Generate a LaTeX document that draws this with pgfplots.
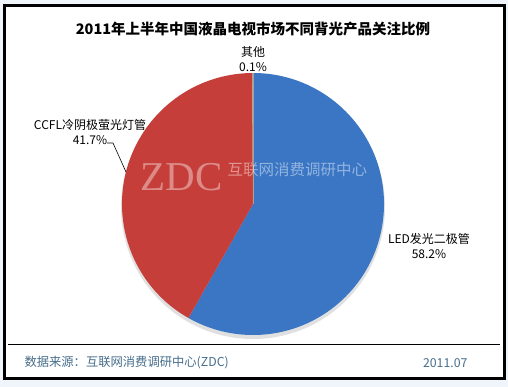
\documentclass[border=0pt]{standalone}
\usepackage{fontspec}
\setmainfont{Noto Sans CJK SC}
\newfontfamily\zdcfont{Liberation Serif}
\usepackage{pgfplots}
\usepackage{pgfplotstable}
\pgfplotsset{compat=1.18}
\definecolor{bgblue}{RGB}{240,245,251}
\definecolor{ledblue}{RGB}{58,118,196}
\definecolor{ccflred}{RGB}{198,62,58}
\definecolor{othercol}{RGB}{170,160,150}
\definecolor{footcol}{RGB}{70,110,140}
\pgfplotstableread{
name value
LED 58.2
CCFL 41.7
Other 0.1
}\piedata
\begin{document}
\pgfplotstablegetelem{0}{value}\of\piedata \edef\vA{\pgfplotsretval}%
\pgfplotstablegetelem{1}{value}\of\piedata \edef\vB{\pgfplotsretval}%
\pgfplotstablegetelem{2}{value}\of\piedata \edef\vC{\pgfplotsretval}%
\pgfmathsetmacro\aA{90-3.6*\vA}%
\pgfmathsetmacro\aB{\aA-3.6*\vB}%
\pgfmathsetmacro\aC{\aB-3.6*\vC}%
\begin{tikzpicture}
\begin{axis}[width=508pt,height=387pt,scale only axis,
  xmin=0,xmax=508,ymin=0,ymax=387,y dir=reverse,
  axis lines=none,clip=false]
\fill[bgblue] (axis cs:0,0) rectangle (axis cs:508,387);
\filldraw[fill=white,draw=black,line width=3pt] (axis cs:4.5,6) rectangle (axis cs:504.5,378.5);
\draw[black,line width=1pt] (axis cs:8,344) -- (axis cs:500,344);
% title
\node[font=\fontsize{14.5}{17}\selectfont\bfseries] at (axis cs:253,29) {2011年上半年中国液晶电视市场不同背光产品关注比例};
% shadow
\fill[black,opacity=0.12] (axis cs:253,207) circle[radius=132pt];
% pie
\fill[ledblue] (axis cs:253,204) -- ++(90:131pt) arc[start angle=90,end angle=\aA,radius=131pt] -- cycle;
\fill[ccflred] (axis cs:253,204) -- ++(\aA:131pt) arc[start angle=\aA,end angle=\aB,radius=131pt] -- cycle;
\fill[othercol] (axis cs:253,204) -- ++(\aB:131pt) arc[start angle=\aB,end angle=\aC,radius=131pt] -- cycle;
\draw[othercol,line width=0.7pt] (axis cs:253,204) -- ++(90:131pt);
% watermark
\node[white,opacity=0.4,font=\zdcfont\fontsize{41}{41}\selectfont,anchor=west] at (axis cs:137,177) {ZDC};
\node[white,opacity=0.45,font=\fontsize{15.5}{17}\selectfont,anchor=west] at (axis cs:224,170) {互联网消费调研中心};
% labels
\node[align=center,font=\fontsize{12}{15}\selectfont] at (axis cs:253,59.5) {其他\\0.1\%};
\node[align=center,font=\fontsize{12}{15}\selectfont] at (axis cs:90,132.5) {CCFL冷阴极萤光灯管\\41.7\%};
\node[align=center,font=\fontsize{12}{15}\selectfont] at (axis cs:429,246.5) {LED发光二极管\\58.2\%};
\draw[black,line width=0.6pt] (axis cs:107,143) -- (axis cs:113,143) -- (axis cs:126,172);
% footer
\node[footcol,anchor=west,font=\fontsize{12.3}{14}\selectfont] at (axis cs:21,363) {数据来源：互联网消费调研中心(ZDC)};
\node[footcol,anchor=east,font=\fontsize{12.3}{14}\selectfont] at (axis cs:471,363) {2011.07};
\end{axis}
\end{tikzpicture}
\end{document}
